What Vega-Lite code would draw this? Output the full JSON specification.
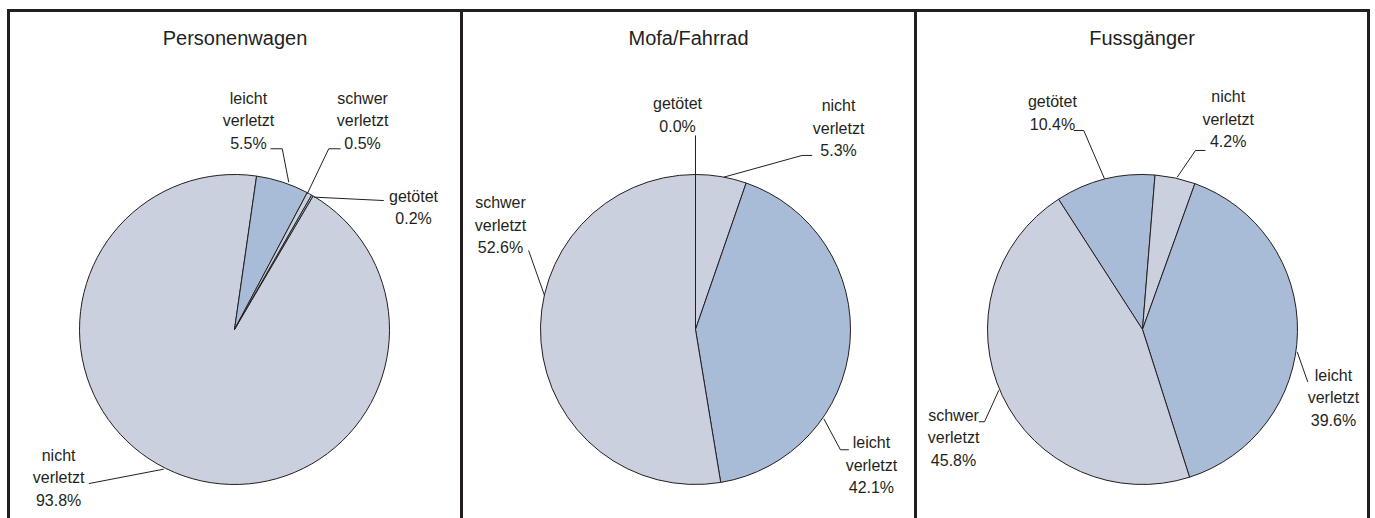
{
  "$schema": "https://vega.github.io/schema/vega-lite/v6.json",
  "background": "white",
  "padding": {"left": 6.5, "top": 8.5, "right": 0, "bottom": 0},
  "spacing": 0,
  "bounds": "flush",
  "config": {
    "view": {"stroke": "#231f20", "strokeWidth": 3},
    "font": "Liberation Sans",
    "title": {"font": "Liberation Sans", "fontSize": 20, "fontWeight": "normal", "color": "#231f20", "anchor": "middle", "orient": "top", "frame": "group", "baseline": "alphabetic", "offset": -38},
    "text": {"font": "Liberation Sans", "fontSize": 16, "lineHeight": 22.5, "align": "center", "baseline": "middle", "color": "#231f20", "lineBreak": " "},
    "rule": {"color": "#231f20", "strokeWidth": 1},
    "arc": {"stroke": "#231f20", "strokeWidth": 1, "outerRadius": 155}
  },
  "datasets": {
    "injuries": [
      {"panel": "Personenwagen", "category": "getötet", "value": 0.2},
      {"panel": "Personenwagen", "category": "nicht verletzt", "value": 93.8},
      {"panel": "Personenwagen", "category": "leicht verletzt", "value": 5.5},
      {"panel": "Personenwagen", "category": "schwer verletzt", "value": 0.5},
      {"panel": "Mofa/Fahrrad", "category": "getötet", "value": 0.0},
      {"panel": "Mofa/Fahrrad", "category": "nicht verletzt", "value": 5.3},
      {"panel": "Mofa/Fahrrad", "category": "leicht verletzt", "value": 42.1},
      {"panel": "Mofa/Fahrrad", "category": "schwer verletzt", "value": 52.6},
      {"panel": "Fussgänger", "category": "getötet", "value": 10.4},
      {"panel": "Fussgänger", "category": "nicht verletzt", "value": 4.2},
      {"panel": "Fussgänger", "category": "leicht verletzt", "value": 39.6},
      {"panel": "Fussgänger", "category": "schwer verletzt", "value": 45.8}
    ]
  },
  "hconcat": [
    {
      "width": 453, "height": 510,
      "title": "Personenwagen",
      "data": {"name": "injuries"},
      "transform": [{"filter": "datum.panel === 'Personenwagen'"}, {"window": [{"op": "row_number", "as": "rank"}]}],
      "layer": [
        {
          "mark": {"type": "arc"},
          "encoding": {
            "x": {"datum": 0, "type": "quantitative", "scale": {"domain": [-1.4581, 1.4645], "nice": false, "zero": false}, "axis": null},
            "y": {"datum": 0, "type": "quantitative", "scale": {"domain": [-1.2323, 2.0581], "nice": false, "zero": false}, "axis": null},
            "theta": {"field": "value", "type": "quantitative", "stack": true, "scale": {"domain": [0, 100], "range": [0.52, 6.8032]}},
            "order": {"field": "rank", "type": "quantitative"},
            "color": {"field": "category", "type": "nominal", "scale": {"domain": ["getötet", "nicht verletzt", "leicht verletzt", "schwer verletzt"], "range": ["#a9bcd7", "#cbd0de", "#a9bcd7", "#cbd0de"]}, "legend": null}
          }
        },
        {
          "transform": [{"filter": "datum.category === 'getötet'"}],
          "layer": [
            {"mark": {"type": "text", "text": {"expr": "datum.category + ' ' + format(datum.value, '.1f') + '%'"}}, "encoding": {"x": {"datum": 1.155, "type": "quantitative"}, "y": {"datum": 0.858, "type": "quantitative"}}},
            {"mark": {"type": "rule"}, "encoding": {"x": {"datum": 0.512, "type": "quantitative"}, "y": {"datum": 0.854, "type": "quantitative"}, "x2": {"datum": 0.963}, "y2": {"datum": 0.832}}}
          ]
        },
        {
          "transform": [{"filter": "datum.category === 'nicht verletzt'"}],
          "layer": [
            {"mark": {"type": "text", "text": {"expr": "datum.category + ' ' + format(datum.value, '.1f') + '%'"}}, "encoding": {"x": {"datum": -1.135, "type": "quantitative"}, "y": {"datum": -0.813, "type": "quantitative"}}},
            {"mark": {"type": "rule"}, "encoding": {"x": {"datum": -0.94, "type": "quantitative"}, "y": {"datum": -0.994, "type": "quantitative"}, "x2": {"datum": -0.456}, "y2": {"datum": -0.901}}}
          ]
        },
        {
          "transform": [{"filter": "datum.category === 'leicht verletzt'"}],
          "layer": [
            {"mark": {"type": "text", "text": {"expr": "datum.category + ' ' + format(datum.value, '.1f') + '%'"}}, "encoding": {"x": {"datum": 0.09, "type": "quantitative"}, "y": {"datum": 1.49, "type": "quantitative"}}},
            {"mark": {"type": "rule"}, "encoding": {"x": {"datum": 0.232, "type": "quantitative"}, "y": {"datum": 1.166, "type": "quantitative"}, "x2": {"datum": 0.308}, "y2": {"datum": 1.166}}},
            {"mark": {"type": "rule"}, "encoding": {"x": {"datum": 0.308, "type": "quantitative"}, "y": {"datum": 1.166, "type": "quantitative"}, "x2": {"datum": 0.35}, "y2": {"datum": 0.95}}}
          ]
        },
        {
          "transform": [{"filter": "datum.category === 'schwer verletzt'"}],
          "layer": [
            {"mark": {"type": "text", "text": {"expr": "datum.category + ' ' + format(datum.value, '.1f') + '%'"}}, "encoding": {"x": {"datum": 0.826, "type": "quantitative"}, "y": {"datum": 1.49, "type": "quantitative"}}},
            {"mark": {"type": "rule"}, "encoding": {"x": {"datum": 0.608, "type": "quantitative"}, "y": {"datum": 1.166, "type": "quantitative"}, "x2": {"datum": 0.684}, "y2": {"datum": 1.166}}},
            {"mark": {"type": "rule"}, "encoding": {"x": {"datum": 0.608, "type": "quantitative"}, "y": {"datum": 1.166, "type": "quantitative"}, "x2": {"datum": 0.469}, "y2": {"datum": 0.875}}}
          ]
        }
      ]
    },
    {
      "width": 454, "height": 510,
      "title": "Mofa/Fahrrad",
      "data": {"name": "injuries"},
      "transform": [{"filter": "datum.panel === 'Mofa/Fahrrad'"}, {"window": [{"op": "row_number", "as": "rank"}]}],
      "layer": [
        {
          "mark": {"type": "arc"},
          "encoding": {
            "x": {"datum": 0, "type": "quantitative", "scale": {"domain": [-1.5097, 1.4194], "nice": false, "zero": false}, "axis": null},
            "y": {"datum": 0, "type": "quantitative", "scale": {"domain": [-1.2323, 2.0581], "nice": false, "zero": false}, "axis": null},
            "theta": {"field": "value", "type": "quantitative", "stack": true, "scale": {"domain": [0, 100], "range": [0, 6.2832]}},
            "order": {"field": "rank", "type": "quantitative"},
            "color": {"field": "category", "type": "nominal", "scale": {"domain": ["getötet", "nicht verletzt", "leicht verletzt", "schwer verletzt"], "range": ["#a9bcd7", "#cbd0de", "#a9bcd7", "#cbd0de"]}, "legend": null}
          }
        },
        {
          "transform": [{"filter": "datum.category === 'getötet'"}],
          "layer": [
            {"mark": {"type": "text", "text": {"expr": "datum.category + ' ' + format(datum.value, '.1f') + '%'"}}, "encoding": {"x": {"datum": -0.116, "type": "quantitative"}, "y": {"datum": 1.452, "type": "quantitative"}}},
            {"mark": {"type": "rule"}, "encoding": {"x": {"datum": 0, "type": "quantitative"}, "y": {"datum": 1.252, "type": "quantitative"}, "x2": {"datum": 0}, "y2": {"datum": 1.0}}}
          ]
        },
        {
          "transform": [{"filter": "datum.category === 'nicht verletzt'"}],
          "layer": [
            {"mark": {"type": "text", "text": {"expr": "datum.category + ' ' + format(datum.value, '.1f') + '%'"}}, "encoding": {"x": {"datum": 0.923, "type": "quantitative"}, "y": {"datum": 1.439, "type": "quantitative"}}},
            {"mark": {"type": "rule"}, "encoding": {"x": {"datum": 0.688, "type": "quantitative"}, "y": {"datum": 1.123, "type": "quantitative"}, "x2": {"datum": 0.753}, "y2": {"datum": 1.123}}},
            {"mark": {"type": "rule"}, "encoding": {"x": {"datum": 0.688, "type": "quantitative"}, "y": {"datum": 1.123, "type": "quantitative"}, "x2": {"datum": 0.183}, "y2": {"datum": 0.983}}}
          ]
        },
        {
          "transform": [{"filter": "datum.category === 'leicht verletzt'"}],
          "layer": [
            {"mark": {"type": "text", "text": {"expr": "datum.category + ' ' + format(datum.value, '.1f') + '%'"}}, "encoding": {"x": {"datum": 1.135, "type": "quantitative"}, "y": {"datum": -0.735, "type": "quantitative"}}},
            {"mark": {"type": "rule"}, "encoding": {"x": {"datum": 0.828, "type": "quantitative"}, "y": {"datum": -0.576, "type": "quantitative"}, "x2": {"datum": 0.935}, "y2": {"datum": -0.776}}},
            {"mark": {"type": "rule"}, "encoding": {"x": {"datum": 0.935, "type": "quantitative"}, "y": {"datum": -0.776, "type": "quantitative"}, "x2": {"datum": 0.989}, "y2": {"datum": -0.776}}}
          ]
        },
        {
          "transform": [{"filter": "datum.category === 'schwer verletzt'"}],
          "layer": [
            {"mark": {"type": "text", "text": {"expr": "datum.category + ' ' + format(datum.value, '.1f') + '%'"}}, "encoding": {"x": {"datum": -1.258, "type": "quantitative"}, "y": {"datum": 0.813, "type": "quantitative"}}},
            {"mark": {"type": "rule"}, "encoding": {"x": {"datum": -1.077, "type": "quantitative"}, "y": {"datum": 0.51, "type": "quantitative"}, "x2": {"datum": -0.974}, "y2": {"datum": 0.219}}}
          ]
        }
      ]
    },
    {
      "width": 453, "height": 510,
      "title": "Fussgänger",
      "data": {"name": "injuries"},
      "transform": [{"filter": "datum.panel === 'Fussgänger'"}, {"window": [{"op": "row_number", "as": "rank"}]}],
      "layer": [
        {
          "mark": {"type": "arc"},
          "encoding": {
            "x": {"datum": 0, "type": "quantitative", "scale": {"domain": [-1.4645, 1.4581], "nice": false, "zero": false}, "axis": null},
            "y": {"datum": 0, "type": "quantitative", "scale": {"domain": [-1.2323, 2.0581], "nice": false, "zero": false}, "axis": null},
            "theta": {"field": "value", "type": "quantitative", "stack": true, "scale": {"domain": [0, 100], "range": [-0.5725, 5.7107]}},
            "order": {"field": "rank", "type": "quantitative"},
            "color": {"field": "category", "type": "nominal", "scale": {"domain": ["getötet", "nicht verletzt", "leicht verletzt", "schwer verletzt"], "range": ["#a9bcd7", "#cbd0de", "#a9bcd7", "#cbd0de"]}, "legend": null}
          }
        },
        {
          "transform": [{"filter": "datum.category === 'getötet'"}],
          "layer": [
            {"mark": {"type": "text", "text": {"expr": "datum.category + ' ' + format(datum.value, '.1f') + '%'"}}, "encoding": {"x": {"datum": -0.581, "type": "quantitative"}, "y": {"datum": 1.465, "type": "quantitative"}}},
            {"mark": {"type": "rule"}, "encoding": {"x": {"datum": -0.443, "type": "quantitative"}, "y": {"datum": 1.284, "type": "quantitative"}, "x2": {"datum": -0.379}, "y2": {"datum": 1.284}}},
            {"mark": {"type": "rule"}, "encoding": {"x": {"datum": -0.379, "type": "quantitative"}, "y": {"datum": 1.284, "type": "quantitative"}, "x2": {"datum": -0.245}, "y2": {"datum": 0.972}}}
          ]
        },
        {
          "transform": [{"filter": "datum.category === 'nicht verletzt'"}],
          "layer": [
            {"mark": {"type": "text", "text": {"expr": "datum.category + ' ' + format(datum.value, '.1f') + '%'"}}, "encoding": {"x": {"datum": 0.553, "type": "quantitative"}, "y": {"datum": 1.497, "type": "quantitative"}}},
            {"mark": {"type": "rule"}, "encoding": {"x": {"datum": 0.342, "type": "quantitative"}, "y": {"datum": 1.155, "type": "quantitative"}, "x2": {"datum": 0.406}, "y2": {"datum": 1.155}}},
            {"mark": {"type": "rule"}, "encoding": {"x": {"datum": 0.342, "type": "quantitative"}, "y": {"datum": 1.155, "type": "quantitative"}, "x2": {"datum": 0.224}, "y2": {"datum": 0.983}}}
          ]
        },
        {
          "transform": [{"filter": "datum.category === 'leicht verletzt'"}],
          "layer": [
            {"mark": {"type": "text", "text": {"expr": "datum.category + ' ' + format(datum.value, '.1f') + '%'"}}, "encoding": {"x": {"datum": 1.232, "type": "quantitative"}, "y": {"datum": -0.297, "type": "quantitative"}}},
            {"mark": {"type": "rule"}, "encoding": {"x": {"datum": 0.998, "type": "quantitative"}, "y": {"datum": -0.144, "type": "quantitative"}, "x2": {"datum": 1.066}, "y2": {"datum": -0.338}}}
          ]
        },
        {
          "transform": [{"filter": "datum.category === 'schwer verletzt'"}],
          "layer": [
            {"mark": {"type": "text", "text": {"expr": "datum.category + ' ' + format(datum.value, '.1f') + '%'"}}, "encoding": {"x": {"datum": -1.219, "type": "quantitative"}, "y": {"datum": -0.555, "type": "quantitative"}}},
            {"mark": {"type": "rule"}, "encoding": {"x": {"datum": -1.056, "type": "quantitative"}, "y": {"datum": -0.595, "type": "quantitative"}, "x2": {"datum": -1.019}, "y2": {"datum": -0.595}}},
            {"mark": {"type": "rule"}, "encoding": {"x": {"datum": -1.019, "type": "quantitative"}, "y": {"datum": -0.595, "type": "quantitative"}, "x2": {"datum": -0.927}, "y2": {"datum": -0.392}}}
          ]
        }
      ]
    }
  ]
}
